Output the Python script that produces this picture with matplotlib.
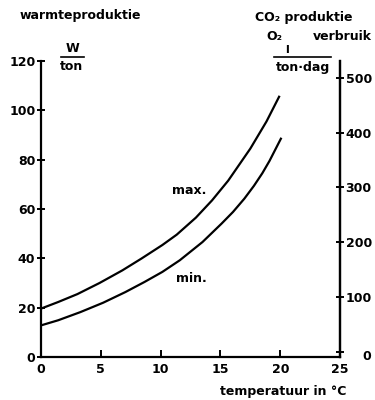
import matplotlib
matplotlib.use("Agg")
import matplotlib.pyplot as plt
from matplotlib.lines import Line2D
from matplotlib.transforms import ScaledTranslation

# points: temperature (degC) -> heat production (W/ton)
max_temp = [0, 1.45, 3.05, 4.9, 6.8, 8.4, 10.15, 11.35, 12.95, 14.3, 15.65, 17.5, 18.85, 19.9]
max_heat = [19.6, 22.3, 25.5, 30.0, 35.1, 39.9, 45.4, 49.6, 56.5, 63.5, 71.5, 84.5, 95.5, 105.5]
min_temp = [0, 1.45, 3.3, 5.2, 7.05, 8.65, 10.15, 11.6, 13.5, 15.1, 16.05, 17.0, 17.8, 18.5, 19.1, 20.05]
min_heat = [12.8, 14.9, 18.2, 22.0, 26.3, 30.4, 34.5, 39.2, 46.6, 54.1, 58.8, 64.2, 69.4, 74.5, 79.5, 88.5]

x_ticks = [0, 5, 10, 15, 20, 25]
left_ticks = [0, 20, 40, 60, 80, 100, 120]
right_ticks = [0, 100, 200, 300, 400, 500]

FONT = dict(family="DejaVu Sans", fontweight="bold", color="black")


def main():
    fig = plt.figure(figsize=(3.75, 4.0), dpi=100)
    ax = fig.add_axes([0.109, 0.1075, 0.798, 0.74])

    ax.plot(max_temp, max_heat, color="black", lw=1.6)
    ax.plot(min_temp, min_heat, color="black", lw=1.6)

    ax.set_xlim(0, 25)
    ax.set_ylim(0, 120)
    ax.set_xticks(x_ticks)
    ax.set_yticks(left_ticks)
    ax.set_xticklabels([str(t) for t in x_ticks], fontsize=9, **FONT)
    ax.set_yticklabels([str(t) for t in left_ticks], fontsize=9, **FONT)
    ax.tick_params(axis="x", direction="in", length=5, width=1.4, pad=4)
    ax.tick_params(axis="y", direction="inout", length=6, width=1.4, pad=1)

    ax.spines["top"].set_visible(False)
    for side in ["left", "bottom", "right"]:
        ax.spines[side].set_linewidth(1.6)

    ax2 = ax.twinx()
    ax2.set_ylim(-9.6, 531)
    ax2.set_yticks(right_ticks)
    ax2.set_yticklabels([str(t) for t in right_ticks], fontsize=9, **FONT)
    ax2.tick_params(axis="y", direction="inout", length=6, width=1.4, pad=1)
    ax2.spines["top"].set_visible(False)
    ax2.spines["left"].set_visible(False)
    ax2.spines["bottom"].set_visible(False)
    ax2.spines["right"].set_linewidth(1.6)
    # the right-hand "0" sits further out and a little lower
    zero = ax2.yaxis.get_major_ticks()[0].label2
    zero.set_transform(zero.get_transform() + ScaledTranslation(0.17, -0.03, fig.dpi_scale_trans))

    ax.text(12.4, 67.7, "max.", ha="center", va="center", fontsize=9, **FONT)
    ax.text(12.6, 32, "min.", ha="center", va="center", fontsize=9, **FONT)

    ax.text(1.02, -0.118, "temperatuur in °C", transform=ax.transAxes,
            ha="right", va="center", fontsize=9, **FONT)

    def fx(px):
        return px / 375

    def fy(py):
        return 1 - py / 400

    fig.text(fx(20), fy(15), "warmteproduktie", ha="left", va="center", fontsize=9, **FONT)
    fig.text(fx(72), fy(48), "W", ha="center", va="center", fontsize=9, **FONT)
    fig.add_artist(Line2D([fx(61), fx(84)], [fy(57), fy(57)], color="black", lw=1.2))
    fig.text(fx(72), fy(66), "ton", ha="center", va="center", fontsize=9, **FONT)

    fig.text(fx(255), fy(17), "CO₂ produktie", ha="left", va="center", fontsize=9, **FONT)
    fig.text(fx(266), fy(36), "O₂", ha="left", va="center", fontsize=9, **FONT)
    fig.text(fx(372), fy(37), "verbruik", ha="right", va="center", fontsize=9, **FONT)
    fig.text(fx(287), fy(50), "l", ha="center", va="center", fontsize=8, **FONT)
    fig.add_artist(Line2D([fx(274), fx(331)], [fy(57), fy(57)], color="black", lw=1.2))
    fig.text(fx(303), fy(67), "ton·dag", ha="center", va="center", fontsize=9, **FONT)

    fig.savefig("out.png", dpi=100)


if __name__ == "__main__":
    main()
